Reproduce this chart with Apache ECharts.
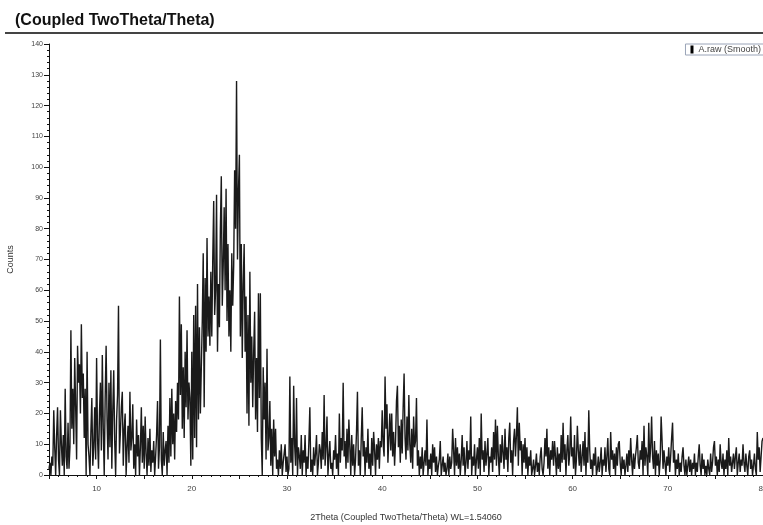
<!DOCTYPE html>
<html><head><meta charset="utf-8">
<script src="https://cdn.jsdelivr.net/npm/echarts@6/dist/echarts.min.js"></script>
<style>html,body{margin:0;padding:0;background:#fff}#c{width:763px;height:525px}</style>
</head><body><div id="c"></div>
<script>
const chartTitle = '(Coupled TwoTheta/Theta)';
const xAxisName = '2Theta (Coupled TwoTheta/Theta) WL=1.54060';
const yAxisName = 'Counts';
const seriesName = 'A.raw (Smooth)';
const startAngle = 5.0;   // first 2Theta sample
const stepAngle = 0.1;    // 2Theta step between samples
const xLabelValues = [10, 20, 30, 40, 50, 60, 70, 80];
const yLabelValues = [0, 10, 20, 30, 40, 50, 60, 70, 80, 90, 100, 110, 120, 130, 140];
// counts, one row per degree (x.0 ... x.9)
const counts = [
  2,4,0,6,3,21,9,0,13,22,
  5,0,21,10,3,13,0,28,6,2,
  17,2,9,47,15,28,10,38,22,5,
  42,30,36,20,49,25,33,12,28,0,
  40,10,6,0,14,25,3,9,22,5,
  38,12,2,20,30,8,39,15,0,25,
  42,18,5,30,9,34,2,21,34,11,
  0,18,26,55,7,14,22,27,3,15,
  20,0,9,16,4,27,8,12,23,2,
  10,0,18,6,13,0,9,22,4,16,
  2,19,7,0,12,3,15,1,8,4,
  11,0,6,13,24,2,9,44,5,0,
  14,3,8,11,0,16,4,25,6,28,
  10,20,5,24,14,30,18,58,26,49,
  15,35,12,40,22,47,18,30,25,3,
  40,5,52,12,55,9,62,18,48,20,
  35,50,72,22,64,40,77,45,58,42,
  66,45,70,89,52,60,91,40,62,48,
  80,97,55,68,87,60,93,50,75,45,
  60,40,72,55,68,99,80,128,70,92,
  104,45,75,38,62,75,40,58,20,52,
  16,66,30,45,22,40,53,18,38,14,
  59,25,59,12,0,35,18,30,5,41,
  8,12,24,3,15,0,18,6,15,2,
  5,0,8,2,10,0,4,7,10,1,
  6,0,2,32,4,12,0,29,10,3,
  25,0,9,6,2,13,0,8,4,13,
  0,6,2,11,22,1,5,0,9,3,
  7,13,0,4,10,8,2,14,5,26,
  3,9,19,0,6,11,2,4,0,8,
  5,13,2,7,0,20,4,12,8,30,
  6,11,2,15,4,18,9,0,13,3,
  10,0,5,14,27,3,8,0,12,22,
  6,11,0,9,4,15,2,7,0,12,
  3,14,8,0,10,5,12,2,11,9,
  21,10,6,32,15,23,4,12,20,8,
  20,6,14,3,11,24,29,9,16,4,
  18,7,22,33,12,5,19,8,26,10,
  4,15,2,19,9,11,25,3,8,0,
  6,2,9,0,4,8,3,18,0,5,
  2,7,0,10,4,9,1,6,0,3,
  5,11,0,3,6,1,4,0,2,7,
  0,6,2,4,15,8,0,12,3,9,
  2,7,0,5,13,3,9,0,4,11,
  2,8,5,19,0,6,3,10,0,5,
  9,2,12,0,20,5,8,1,11,3,
  7,12,0,6,4,9,1,14,5,18,
  3,16,6,0,10,4,13,7,2,15,
  5,9,1,12,17,4,8,0,11,15,
  6,13,22,3,17,8,11,0,10,4,
  12,2,9,0,6,3,8,0,2,5,
  0,3,7,1,4,0,6,9,2,0,
  4,12,6,15,2,9,0,8,5,11,
  3,11,6,0,9,2,7,1,13,4,
  17,5,10,0,8,13,3,7,19,6,
  9,2,13,0,5,16,8,3,10,1,
  6,11,3,14,0,9,4,21,8,2,
  5,0,7,3,9,0,2,6,1,4,
  9,0,5,3,9,1,6,12,2,0,
  14,5,8,2,7,0,9,3,10,11,
  4,0,6,2,5,0,3,7,1,8,
  3,12,5,0,7,2,6,9,13,4,
  2,8,5,11,0,16,3,9,6,0,
  17,4,9,19,6,2,11,0,8,3,
  7,0,5,19,11,2,8,4,0,6,
  3,9,1,6,12,17,4,8,0,5,
  2,7,0,4,1,6,9,3,0,5,
  0,3,6,1,5,0,4,2,7,0,
  4,1,6,10,3,0,7,2,5,0,
  3,0,5,2,0,7,1,4,9,11,
  3,6,0,5,1,10,4,2,7,0,
  5,2,8,0,12,3,6,1,4,7,
  2,6,9,0,4,7,1,5,3,10,
  4,1,7,3,0,6,8,2,5,0,
  3,7,2,0,14,5,9,1,6,11,
  12
];

const seriesData = counts.map((v, i) => [+(startAngle + i * stepAngle).toFixed(2), v]);
const font = 'Liberation Sans, Arial, sans-serif';
const chart = echarts.init(document.getElementById('c'), null, {renderer: 'canvas'});
chart.setOption({
  animation: false,
  backgroundColor: '#fff',
  title: {
    text: chartTitle, left: 10, top: 8,
    textStyle: {fontFamily: font, fontSize: 16, fontWeight: 'bold', color: '#111'}
  },
  graphic: [{
    type: 'line', shape: {x1: 5, y1: 33, x2: 763, y2: 33},
    style: {stroke: '#444', lineWidth: 2}
  }],
  legend: {
    right: -2, top: 44, data: [seriesName], icon: 'rect',
    itemWidth: 3, itemHeight: 8, itemGap: 4,
    borderColor: '#9aa4b8', borderWidth: 1, padding: [1, 4, 1, 5],
    backgroundColor: '#fff',
    textStyle: {fontFamily: font, fontSize: 9, color: '#444'}
  },
  grid: {left: 49, right: 0, top: 44, bottom: 50, outerBoundsMode: 'none'},
  xAxis: {
    type: 'value', min: 5, max: 80, interval: 5,
    name: xAxisName, nameLocation: 'middle', nameGap: 38,
    nameTextStyle: {fontFamily: font, fontSize: 9, color: '#333'},
    axisLine: {show: true, lineStyle: {color: '#111', width: 1}},
    axisTick: {show: true, length: 4, lineStyle: {color: '#111'}},
    minorTick: {show: true, splitNumber: 5, length: 2, lineStyle: {color: '#111'}},
    splitLine: {show: false},
    axisLabel: {
      fontFamily: font, fontSize: 8, color: '#444', margin: 10,
      showMinLabel: true, showMaxLabel: true,
      formatter: v => xLabelValues.includes(Math.round(v)) && Math.abs(v - Math.round(v)) < 1e-6 ? String(Math.round(v)) : ''
    }
  },
  yAxis: {
    type: 'value', min: 0, max: 140, interval: 10,
    name: yAxisName, nameLocation: 'middle', nameGap: 34, nameRotate: 90,
    nameTextStyle: {fontFamily: font, fontSize: 9, color: '#333'},
    axisLine: {show: true, lineStyle: {color: '#111', width: 1}},
    axisTick: {show: true, length: 5, lineStyle: {color: '#111'}},
    minorTick: {show: true, splitNumber: 5, length: 2, lineStyle: {color: '#111'}},
    splitLine: {show: false},
    axisLabel: {
      fontFamily: font, fontSize: 7, color: '#444', margin: 6,
      formatter: v => yLabelValues.includes(v) ? String(v) : ''
    }
  },
  series: [{
    name: seriesName, type: 'line', data: seriesData,
    showSymbol: false, symbol: 'none', color: '#000',
    lineStyle: {color: '#1a1a1a', width: 1.4},
    emphasis: {disabled: true}
  }]
});
</script></body></html>
